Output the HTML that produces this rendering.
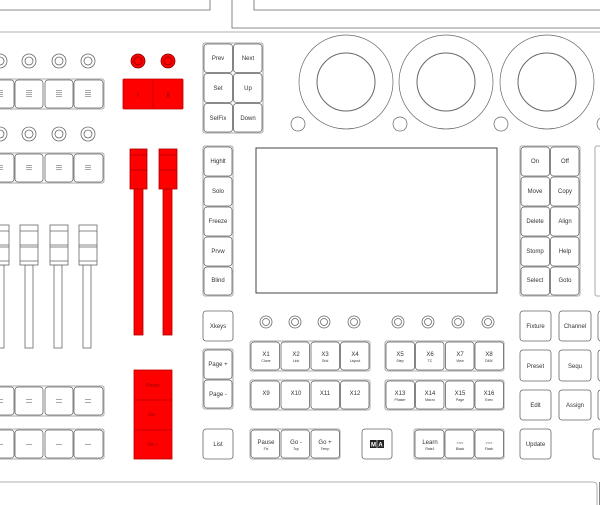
<!DOCTYPE html>
<html><head><meta charset="utf-8"><style>
html,body{margin:0;padding:0;background:#fff;width:600px;height:505px;overflow:hidden}
svg{display:block}
text{font-family:"Liberation Sans",sans-serif;fill:#333;text-anchor:middle}
.k{fill:#fff;stroke:#666;stroke-width:0.8}
.g{fill:none;stroke:#aaa;stroke-width:1}
.l{fill:none;stroke:#666;stroke-width:0.8}
.t{font-size:6px}
.s{font-size:3.5px}
</style></head><body>
<svg width="600" height="505" viewBox="0 0 600 505" xmlns="http://www.w3.org/2000/svg">
<path class="l" d="M0 10H210V0"/>
<path class="l" d="M232 0V28H600"/>
<path class="l" d="M254 0V10H600"/>
<line x1="0" y1="32" x2="600" y2="32" stroke="#999" stroke-width="0.8"/>
<path d="M0 482H593Q597 482 597 486V505" fill="none" stroke="#999" stroke-width="0.8"/>
<line x1="599.5" y1="482" x2="599.5" y2="505" stroke="#666" stroke-width="0.8"/>

<g fill="#fff" stroke="#666" stroke-width="0.8">
<circle cx="0" cy="61" r="7"/><circle cx="0" cy="61" r="4"/>
<circle cx="29" cy="61" r="7"/><circle cx="29" cy="61" r="4"/>
<circle cx="59" cy="61" r="7"/><circle cx="59" cy="61" r="4"/>
<circle cx="88" cy="61" r="7"/><circle cx="88" cy="61" r="4"/>
<circle cx="0" cy="134" r="7"/><circle cx="0" cy="134" r="4"/>
<circle cx="29" cy="134" r="7"/><circle cx="29" cy="134" r="4"/>
<circle cx="59" cy="134" r="7"/><circle cx="59" cy="134" r="4"/>
<circle cx="88" cy="134" r="7"/><circle cx="88" cy="134" r="4"/>
</g>
<g fill="#f00" stroke="#800" stroke-width="0.8">
<circle cx="138" cy="61" r="7"/><circle cx="138" cy="61" r="4" fill="none"/>
<circle cx="168" cy="61" r="7"/><circle cx="168" cy="61" r="4" fill="none"/>
</g>

<g>
<rect class="g" x="-16" y="79" width="120" height="30" rx="2"/>
<rect class="k" x="-15" y="80" width="29" height="28" rx="3"/><rect class="k" x="15" y="80" width="28" height="28" rx="3"/><rect class="k" x="45" y="80" width="28" height="28" rx="3"/><rect class="k" x="74" y="80" width="29" height="28" rx="3"/>
<rect class="g" x="-16" y="153" width="120" height="30" rx="2"/>
<rect class="k" x="-15" y="154" width="29" height="28" rx="3"/><rect class="k" x="15" y="154" width="28" height="28" rx="3"/><rect class="k" x="45" y="154" width="28" height="28" rx="3"/><rect class="k" x="74" y="154" width="29" height="28" rx="3"/>
<rect class="g" x="-16" y="386" width="120" height="30" rx="2"/>
<rect class="k" x="-15" y="387" width="29" height="28" rx="3"/><rect class="k" x="15" y="387" width="28" height="28" rx="3"/><rect class="k" x="45" y="387" width="28" height="28" rx="3"/><rect class="k" x="74" y="387" width="29" height="28" rx="3"/>
<rect class="g" x="-16" y="429" width="120" height="30" rx="2"/>
<rect class="k" x="-15" y="430" width="29" height="28" rx="3"/><rect class="k" x="15" y="430" width="28" height="28" rx="3"/><rect class="k" x="45" y="430" width="28" height="28" rx="3"/><rect class="k" x="74" y="430" width="29" height="28" rx="3"/>
</g>
<g stroke="#555" stroke-width="0.6">
<path d="M-3 90.5h6M-3 92.5h6M-3 94.5h6M-3 96.5h6 M26 90.5h6M26 92.5h6M26 94.5h6M26 96.5h6 M56 90.5h6M56 92.5h6M56 94.5h6M56 96.5h6 M85 90.5h6M85 92.5h6M85 94.5h6M85 96.5h6"/>
<path d="M-3 165.5h6M-3 167.5h6M-3 169.5h6 M26 165.5h6M26 167.5h6M26 169.5h6 M56 165.5h6M56 167.5h6M56 169.5h6 M85 165.5h6M85 167.5h6M85 169.5h6"/>
<path d="M-3 399.5h6M-3 402.5h6 M26 399.5h6M26 402.5h6 M56 399.5h6M56 402.5h6 M85 399.5h6M85 402.5h6"/>
<path d="M-3 444.5h6 M26 444.5h6 M56 444.5h6 M85 444.5h6"/>
</g>

<rect x="123" y="79" width="60" height="30" rx="1" fill="#f00" stroke="#b00" stroke-width="0.8"/>
<line x1="153" y1="80" x2="153" y2="108" stroke="#b00" stroke-width="0.8"/>
<text x="138" y="97" class="t" style="fill:#700">I</text>
<text x="168" y="97" class="t" style="fill:#700">II</text>

<g fill="#fff" stroke="#666" stroke-width="0.8">
<rect x="-4" y="265" width="8" height="83"/><rect x="25" y="265" width="8" height="83"/><rect x="54" y="265" width="8" height="83"/><rect x="83" y="265" width="8" height="83"/>
<rect x="-9" y="225" width="18" height="40"/><rect x="20" y="225" width="18" height="40"/><rect x="50" y="225" width="18" height="40"/><rect x="79" y="225" width="18" height="40"/>
<path d="M-9 231h18M-9 245h18M-9 247h18M-9 261h18 M20 231h18M20 245h18M20 247h18M20 261h18 M50 231h18M50 245h18M50 247h18M50 261h18 M79 231h18M79 245h18M79 247h18M79 261h18" fill="none"/>
</g>
<g fill="#f00" stroke="#a00" stroke-width="0.8">
<rect x="134" y="189" width="9" height="146"/><rect x="163" y="189" width="9" height="146"/>
<rect x="130" y="149" width="17" height="40"/><rect x="159" y="149" width="18" height="40"/>
<path d="M130 155h17M130 170h17M159 155h18M159 170h18" fill="none"/>
</g>

<rect x="134" y="370" width="38" height="89" fill="#f00" stroke="#b00" stroke-width="0.8"/>
<path d="M134 400h38M134 430h38" stroke="#b00" stroke-width="0.8"/>
<text x="153" y="387" style="font-size:5px;fill:#900">Pause</text>
<text x="153" y="416" style="font-size:5px;fill:#900">Go -</text>
<text x="153" y="446" style="font-size:5px;fill:#900">Go +</text>

<rect class="g" x="203" y="43" width="60" height="90" rx="2"/>
<g>
<rect class="k" x="204" y="44" width="28.5" height="28.5" rx="3"/><rect class="k" x="233.5" y="44" width="28.5" height="28.5" rx="3"/>
<rect class="k" x="204" y="73.5" width="28.5" height="29" rx="3"/><rect class="k" x="233.5" y="73.5" width="28.5" height="29" rx="3"/>
<rect class="k" x="204" y="103.5" width="28.5" height="28.5" rx="3"/><rect class="k" x="233.5" y="103.5" width="28.5" height="28.5" rx="3"/>
</g>
<text class="t" x="218" y="60">Prev</text><text class="t" x="248" y="60">Next</text>
<text class="t" x="218" y="90">Set</text><text class="t" x="248" y="90">Up</text>
<text class="t" x="218" y="120">SelFix</text><text class="t" x="248" y="120">Down</text>

<rect class="g" x="203" y="146" width="30" height="150" rx="2"/>
<rect class="k" x="204" y="147" width="28" height="29" rx="3"/><rect class="k" x="204" y="177" width="28" height="29" rx="3"/><rect class="k" x="204" y="207" width="28" height="29" rx="3"/><rect class="k" x="204" y="237" width="28" height="29" rx="3"/><rect class="k" x="204" y="267" width="28" height="28" rx="3"/>
<text class="t" x="218" y="163">Highlt</text><text class="t" x="218" y="193">Solo</text><text class="t" x="218" y="223">Freeze</text><text class="t" x="218" y="253">Prvw</text><text class="t" x="218" y="282">Blind</text>

<rect class="k" x="203" y="311" width="30" height="30" rx="3"/><text class="t" x="218" y="328">Xkeys</text>
<rect class="g" x="203" y="349" width="30" height="60" rx="2"/>
<rect class="k" x="204" y="350" width="28" height="29" rx="3"/><rect class="k" x="204" y="380" width="28" height="28" rx="3"/>
<text class="t" x="218" y="366">Page +</text><text class="t" x="218" y="396">Page -</text>
<rect class="k" x="203" y="429" width="30" height="30" rx="3"/><text class="t" x="218" y="446">List</text>

<rect x="256" y="148" width="241" height="145" fill="#fff" stroke="#444" stroke-width="1"/>

<g fill="none" stroke="#666" stroke-width="0.7">
<circle cx="346" cy="82" r="47"/><circle cx="346" cy="82" r="29" stroke-width="1"/>
<circle cx="446" cy="82" r="47"/><circle cx="446" cy="82" r="29" stroke-width="1"/>
<circle cx="547" cy="82" r="47"/><circle cx="547" cy="82" r="29" stroke-width="1"/>
<circle cx="298" cy="124" r="7"/><circle cx="400" cy="124" r="7"/><circle cx="501" cy="124" r="7"/><circle cx="604" cy="124" r="7"/>
</g>

<rect class="g" x="520" y="146" width="60" height="150" rx="2"/>
<g>
<rect class="k" x="521" y="147" width="28.5" height="29" rx="3"/><rect class="k" x="550.5" y="147" width="28.5" height="29" rx="3"/>
<rect class="k" x="521" y="177" width="28.5" height="29" rx="3"/><rect class="k" x="550.5" y="177" width="28.5" height="29" rx="3"/>
<rect class="k" x="521" y="207" width="28.5" height="29" rx="3"/><rect class="k" x="550.5" y="207" width="28.5" height="29" rx="3"/>
<rect class="k" x="521" y="237" width="28.5" height="29" rx="3"/><rect class="k" x="550.5" y="237" width="28.5" height="29" rx="3"/>
<rect class="k" x="521" y="267" width="28.5" height="28" rx="3"/><rect class="k" x="550.5" y="267" width="28.5" height="28" rx="3"/>
</g>
<text class="t" x="535" y="163">On</text><text class="t" x="565" y="163">Off</text>
<text class="t" x="535" y="193">Move</text><text class="t" x="565" y="193">Copy</text>
<text class="t" x="535" y="223">Delete</text><text class="t" x="565" y="223">Align</text>
<text class="t" x="535" y="253">Stomp</text><text class="t" x="565" y="253">Help</text>
<text class="t" x="535" y="282">Select</text><text class="t" x="565" y="282">Goto</text>
<rect class="g" x="595" y="146" width="30" height="150" rx="2"/>

<g fill="#fff" stroke="#666" stroke-width="0.8">
<circle cx="266" cy="322" r="6"/><circle cx="266" cy="322" r="3.5"/>
<circle cx="295" cy="322" r="6"/><circle cx="295" cy="322" r="3.5"/>
<circle cx="324" cy="322" r="6"/><circle cx="324" cy="322" r="3.5"/>
<circle cx="354" cy="322" r="6"/><circle cx="354" cy="322" r="3.5"/>
<circle cx="398" cy="322" r="6"/><circle cx="398" cy="322" r="3.5"/>
<circle cx="428" cy="322" r="6"/><circle cx="428" cy="322" r="3.5"/>
<circle cx="458" cy="322" r="6"/><circle cx="458" cy="322" r="3.5"/>
<circle cx="488" cy="322" r="6"/><circle cx="488" cy="322" r="3.5"/>
</g>

<rect class="g" x="250" y="341" width="120" height="30" rx="2"/>
<rect class="g" x="250" y="380" width="120" height="30" rx="2"/>
<rect class="g" x="385" y="341" width="119" height="30" rx="2"/>
<rect class="g" x="385" y="380" width="119" height="30" rx="2"/>
<rect class="g" x="250" y="429" width="90" height="30" rx="2"/>
<rect class="g" x="414" y="429" width="90" height="30" rx="2"/>
<g>
<rect class="k" x="251" y="342" width="28.5" height="28" rx="3"/><rect class="k" x="281" y="342" width="28.5" height="28" rx="3"/><rect class="k" x="311" y="342" width="28.5" height="28" rx="3"/><rect class="k" x="340.5" y="342" width="28.5" height="28" rx="3"/>
<rect class="k" x="251" y="381" width="28.5" height="28" rx="3"/><rect class="k" x="281" y="381" width="28.5" height="28" rx="3"/><rect class="k" x="311" y="381" width="28.5" height="28" rx="3"/><rect class="k" x="340.5" y="381" width="28.5" height="28" rx="3"/>
<rect class="k" x="386" y="342" width="28.5" height="28" rx="3"/><rect class="k" x="415.5" y="342" width="28.5" height="28" rx="3"/><rect class="k" x="445.5" y="342" width="28.5" height="28" rx="3"/><rect class="k" x="475" y="342" width="28.5" height="28" rx="3"/>
<rect class="k" x="386" y="381" width="28.5" height="28" rx="3"/><rect class="k" x="415.5" y="381" width="28.5" height="28" rx="3"/><rect class="k" x="445.5" y="381" width="28.5" height="28" rx="3"/><rect class="k" x="475" y="381" width="28.5" height="28" rx="3"/>
<rect class="k" x="251" y="430" width="28.5" height="28" rx="3"/><rect class="k" x="281" y="430" width="28.5" height="28" rx="3"/><rect class="k" x="311" y="430" width="28.5" height="28" rx="3"/>
<rect class="k" x="362" y="429" width="30" height="30" rx="3"/>
<rect class="k" x="415" y="430" width="29" height="28" rx="3"/><rect class="k" x="445" y="430" width="29" height="28" rx="3"/><rect class="k" x="475" y="430" width="28.5" height="28" rx="3"/>
</g>
<text class="t" x="266" y="356">X1</text><text class="s" x="266" y="362">Clone</text>
<text class="t" x="296" y="356">X2</text><text class="s" x="296" y="362">Link</text>
<text class="t" x="325" y="356">X3</text><text class="s" x="325" y="362">Grid</text>
<text class="t" x="355" y="356">X4</text><text class="s" x="355" y="362">Layout</text>
<text class="t" x="400" y="356">X5</text><text class="s" x="400" y="362">Step</text>
<text class="t" x="430" y="356">X6</text><text class="s" x="430" y="362">TC</text>
<text class="t" x="460" y="356">X7</text><text class="s" x="460" y="362">View</text>
<text class="t" x="489" y="356">X8</text><text class="s" x="489" y="362">DMX</text>
<text class="t" x="266" y="395">X9</text><text class="t" x="296" y="395">X10</text><text class="t" x="325" y="395">X11</text><text class="t" x="355" y="395">X12</text>
<text class="t" x="400" y="395">X13</text><text class="s" x="400" y="401">Phaser</text>
<text class="t" x="430" y="395">X14</text><text class="s" x="430" y="401">Macro</text>
<text class="t" x="460" y="395">X15</text><text class="s" x="460" y="401">Page</text>
<text class="t" x="489" y="395">X16</text><text class="s" x="489" y="401">Exec</text>
<text class="t" x="266" y="444">Pause</text><text class="s" x="266" y="450">Fix</text>
<text class="t" x="296" y="444">Go -</text><text class="s" x="296" y="450">Top</text>
<text class="t" x="325" y="444">Go +</text><text class="s" x="325" y="450">Temp</text>
<text class="t" x="430" y="444">Learn</text><text class="s" x="430" y="450">Rate1</text>
<text class="s" x="460" y="444" style="font-size:4px">&lt;&lt;&lt;</text><text class="s" x="460" y="450">Black</text>
<text class="s" x="489" y="444" style="font-size:4px">&gt;&gt;&gt;</text><text class="s" x="489" y="450">Flash</text>
<rect x="370" y="440" width="14" height="8" fill="#222"/>
<line x1="377" y1="440" x2="377" y2="448" stroke="#fff" stroke-width="0.6"/>
<text x="373.5" y="446.5" style="font-size:6px;font-weight:bold;fill:#fff">M</text>
<text x="380.5" y="446.5" style="font-size:6px;font-weight:bold;fill:#fff">A</text>

<rect class="k" x="520" y="311" width="31" height="30" rx="3"/><text class="t" x="535.5" y="328">Fixture</text>
<rect class="k" x="559" y="311" width="32" height="30" rx="3"/><text class="t" x="575" y="328">Channel</text>
<rect class="k" x="520" y="350" width="31" height="31" rx="3"/><text class="t" x="535.5" y="368">Preset</text>
<rect class="k" x="559" y="350" width="32" height="31" rx="3"/><text class="t" x="575" y="368">Sequ</text>
<rect class="k" x="520" y="390" width="31" height="30" rx="3"/><text class="t" x="535.5" y="407">Edit</text>
<rect class="k" x="559" y="390" width="32" height="30" rx="3"/><text class="t" x="575" y="407">Assign</text>
<rect class="k" x="520" y="429" width="31" height="30" rx="3"/><text class="t" x="535.5" y="446">Update</text>
<rect class="k" x="598" y="311" width="30" height="30" rx="3"/><rect class="k" x="598" y="350" width="30" height="31" rx="3"/><rect class="k" x="598" y="390" width="30" height="30" rx="3"/><rect class="k" x="593" y="429" width="30" height="30" rx="3"/>
</svg>
</body></html>
